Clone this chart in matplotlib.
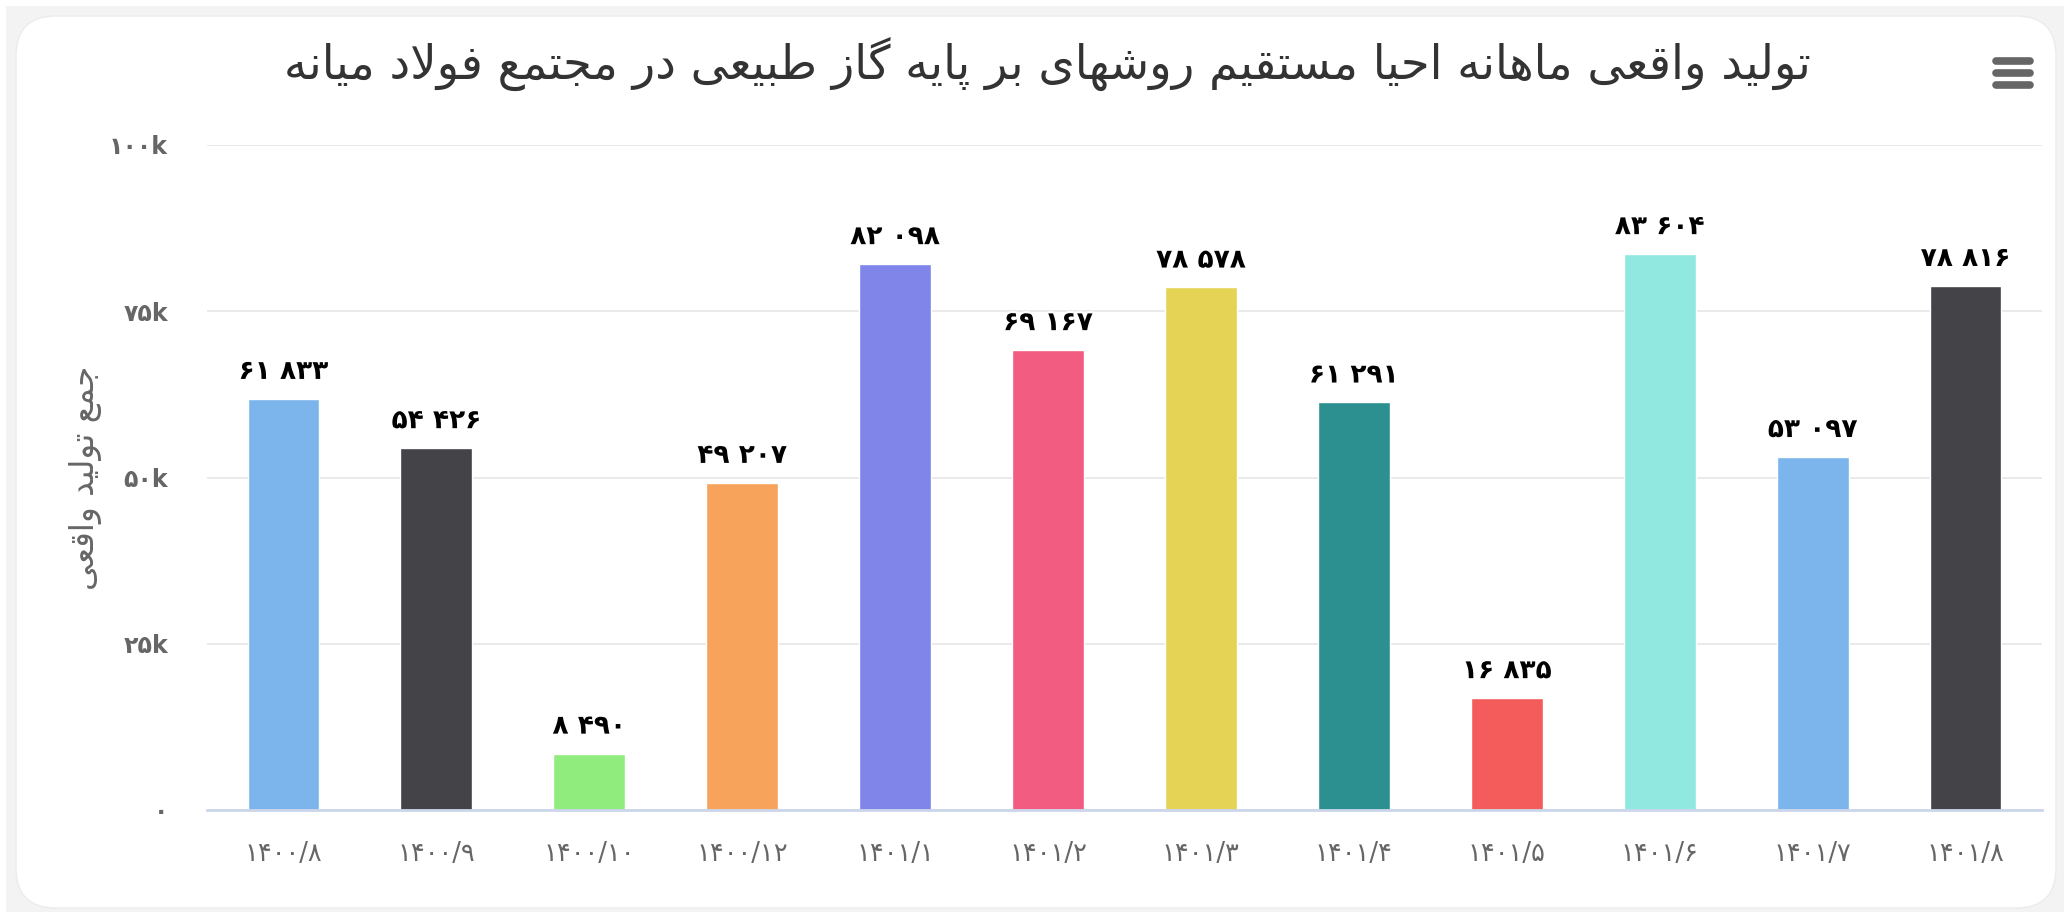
import matplotlib
matplotlib.use('Agg')
import matplotlib.pyplot as plt
from matplotlib.patches import FancyBboxPatch
import matplotlib.patheffects as pe

# ---------------- data ----------------
title_text = "تولید واقعی ماهانه احیا مستقیم روشهای بر پایه گاز طبیعی در مجتمع فولاد میانه"
yaxis_title = "جمع تولید واقعی"
categories = ["1400/8", "1400/9", "1400/10", "1400/12", "1401/1", "1401/2",
              "1401/3", "1401/4", "1401/5", "1401/6", "1401/7", "1401/8"]
values = [61833, 54426, 8490, 49207, 82098, 69167, 78578, 61291, 16835, 83604, 53097, 78816]
colors = ["#7cb5ec", "#434348", "#90ed7d", "#f7a35c", "#8085e9", "#f15c80",
          "#e4d354", "#2b908f", "#f45b5b", "#91e8e1", "#7cb5ec", "#434348"]
yticks = [0, 25000, 50000, 75000, 100000]
ytick_labels = ["0", "25k", "50k", "75k", "100k"]

# ---------------- helpers ----------------
FA = str.maketrans("0123456789", "۰۱۲۳۴۵۶۷۸۹")

def fa_digits(s):
    return s.translate(FA)

def fmt_num(v):
    return fa_digits(f"{v:,}".replace(",", " "))

# presentation forms: iso, fin, ini, med (None for right-joining only)
FORMS = {
    'ا': ('\uFE8D', '\uFE8E', None, None),
    'آ': ('\uFE81', '\uFE82', None, None),
    'ب': ('\uFE8F', '\uFE90', '\uFE91', '\uFE92'),
    'پ': ('\uFB56', '\uFB57', '\uFB58', '\uFB59'),
    'ت': ('\uFE95', '\uFE96', '\uFE97', '\uFE98'),
    'ج': ('\uFE9D', '\uFE9E', '\uFE9F', '\uFEA0'),
    'ح': ('\uFEA1', '\uFEA2', '\uFEA3', '\uFEA4'),
    'د': ('\uFEA9', '\uFEAA', None, None),
    'ر': ('\uFEAD', '\uFEAE', None, None),
    'ز': ('\uFEAF', '\uFEB0', None, None),
    'س': ('\uFEB1', '\uFEB2', '\uFEB3', '\uFEB4'),
    'ش': ('\uFEB5', '\uFEB6', '\uFEB7', '\uFEB8'),
    'ط': ('\uFEC1', '\uFEC2', '\uFEC3', '\uFEC4'),
    'ع': ('\uFEC9', '\uFECA', '\uFECB', '\uFECC'),
    'ف': ('\uFED1', '\uFED2', '\uFED3', '\uFED4'),
    'ق': ('\uFED5', '\uFED6', '\uFED7', '\uFED8'),
    'گ': ('\uFB92', '\uFB93', '\uFB94', '\uFB95'),
    'ل': ('\uFEDD', '\uFEDE', '\uFEDF', '\uFEE0'),
    'م': ('\uFEE1', '\uFEE2', '\uFEE3', '\uFEE4'),
    'ن': ('\uFEE5', '\uFEE6', '\uFEE7', '\uFEE8'),
    'ه': ('\uFEE9', '\uFEEA', '\uFEEB', '\uFEEC'),
    'و': ('\uFEED', '\uFEEE', None, None),
    'ی': ('\uFBFC', '\uFBFD', '\uFBFE', '\uFBFF'),
}

def dual(c):
    return c in FORMS and FORMS[c][2] is not None

def joins(c):
    return c in FORMS

def shape(text):
    out = []
    chars = list(text)
    i = 0
    n = len(chars)
    while i < n:
        c = chars[i]
        if c not in FORMS:
            out.append(c)
            i += 1
            continue
        prev = chars[i - 1] if i > 0 else ''
        con_prev = dual(prev)
        # lam-alef ligature
        if c == 'ل' and i + 1 < n and chars[i + 1] == 'ا':
            out.append('\uFEFC' if con_prev else '\uFEFB')
            i += 2
            continue
        nxt = chars[i + 1] if i + 1 < n else ''
        con_next = dual(c) and joins(nxt)
        iso, fin, ini, med = FORMS[c]
        if con_prev and con_next:
            out.append(med)
        elif con_prev:
            out.append(fin)
        elif con_next:
            out.append(ini)
        else:
            out.append(iso)
        i += 1
    return ''.join(out)[::-1]

# ---------------- figure ----------------
W, H = 2066, 914
fig = plt.figure(figsize=(W / 100, H / 100), dpi=100)
fig.patch.set_facecolor('white')

bg = fig.add_axes([0, 0, 1, 1], zorder=0)
bg.set_xlim(0, W)
bg.set_ylim(H, 0)
bg.axis('off')
bg.add_patch(plt.Rectangle((6, 6), W - 8, H - 8, facecolor='#f3f3f3', edgecolor='none'))
bg.add_patch(FancyBboxPatch((16, 16), W - 26, H - 22,
                            boxstyle="round,pad=0,rounding_size=40",
                            facecolor='white', edgecolor='#ececec', lw=1))
# hamburger menu
for yy in (61, 73, 85):
    bg.plot([1996, 2030], [yy, yy], color='#666666', lw=5.5, solid_capstyle='round')

# title
bg.text(1047, 64, shape(title_text), ha='center', va='center', fontsize=33.5,
        color='#333333', family='DejaVu Sans')
# y-axis title
bg.text(86, 478, shape(yaxis_title), ha='center', va='center', rotation=90,
        fontsize=23.5, color='#666666', family='DejaVu Sans')

L, R, T, B = 207, 2042, 145, 810
ax = fig.add_axes([L / W, 1 - B / H, (R - L) / W, (B - T) / H], zorder=1)
ax.set_facecolor('none')
x = list(range(len(categories)))
ax.bar(x, values, width=0.47, color=colors, edgecolor='white', linewidth=1, zorder=3)
ax.set_xlim(-0.5, len(categories) - 0.5)
ax.set_ylim(0, 100000)
ax.set_yticks(yticks)
ax.set_yticklabels([fa_digits(t) for t in ytick_labels])
ax.set_xticks(x)
ax.set_xticklabels([fa_digits(c) for c in categories])
ax.tick_params(axis='both', length=0, labelcolor='#666666')
ax.tick_params(axis='y', pad=28, labelsize=17)
ax.tick_params(axis='x', pad=22, labelsize=18.5)
for t in ax.get_yticklabels():
    t.set_fontweight('bold')
ax.grid(axis='y', color='#e6e6e6', lw=1.2, zorder=0)
for s in ('top', 'right', 'left'):
    ax.spines[s].set_visible(False)
ax.spines['bottom'].set_color('#ccd6eb')
ax.spines['bottom'].set_linewidth(2)
ax.spines['bottom'].set_zorder(4)

for xi, v in zip(x, values):
    ax.annotate(fmt_num(v), (xi, v), xytext=(0, 10), textcoords='offset points',
                ha='center', va='bottom', fontsize=19, fontweight='bold',
                color='#000000', zorder=5,
                path_effects=[pe.withStroke(linewidth=3, foreground='white')])

fig.savefig('out.png', dpi=100)
